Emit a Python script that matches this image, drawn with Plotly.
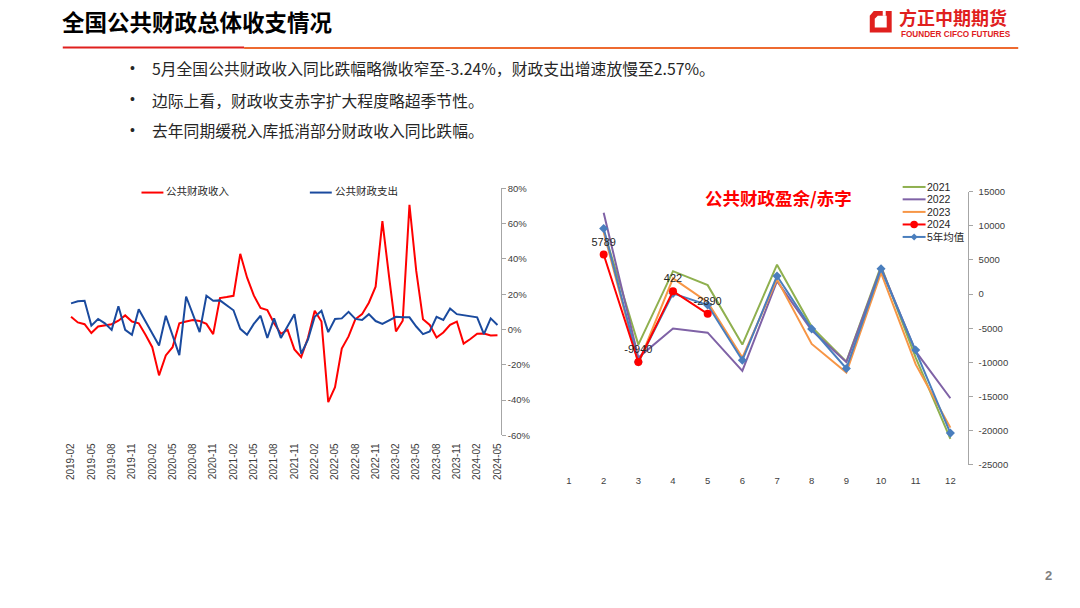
import plotly.graph_objects as go
import pandas as pd

# ---------------- data ----------------
months = [p.strftime("%Y-%m") for p in pd.period_range("2019-02", "2024-05", freq="M")]

revenue_yoy = [7.2, 4, 3, -2, 1.7, 2.2, 3, 5, 8, 4.5,
               3.5, -3, -10, -26, -14.7, -10, 3.5, 4.5, 5.4, 4.8,
               3.2, -2.6, 17.8, 18.4, 19.1, 42.9, 29.5, 19.3, 12.2, 11,
               3.5, -2.4, -0.2, -11.3, -15.6, -4.8, 10.6, 4.5, -41.2, -32.7,
               -10.8, -3.9, 5.8, 8.7, 15.2, 24.3, 61.4, 29.5, -1.1, 5,
               70.7, 33.2, 5.8, 2.6, -4.5, -1.7, 2.6, 4.5, -8, -5.4,
               -2.4, -2.3, -3.4, -3.24]

expend_yoy = [14.8, 16, 16.3, 2.2, 6, 3.5, -0.2, 13.2, -0.2, -3,
              11.5, 4.5, -2.6, -9.1, 7.8, -3.3, -14.5, 18.7, 9.1, -1.5,
              19.1, 16.3, 16.5, 13.7, 10.9, 0.4, -3, 3.2, 7.8, -4.8,
              6.3, -4.8, 2.2, 8.7, -13.7, -5.8, 7.2, 10.6, -1.5, 6,
              6.3, 10, 6, 5.4, 8.7, 4.8, 3.2, 5, 7.2, 6.9,
              6.9, 1.7, -2.6, -1.1, 7.2, 5.4, 11.9, 8.7, 8.2, 7.6,
              6.9, -2.6, 6.3, 2.57]

left_series_names = ["公共财政收入", "公共财政支出"]
left_yticks = [-60, -40, -20, 0, 20, 40, 60, 80]

month_nums = list(range(1, 13))
bal_2021 = [None, 9300, -7400, 3350, 1300, -7400, 4300, -4800, -9900, 4100, -9300, -21200]
bal_2022 = [None, 11900, -9300, -5050, -5650, -11250, 1900, -5300, -9950, 3850, -8400, -15250]
bal_2023 = [None, 9100, -10200, 2300, -1200, -9300, 2150, -7300, -11500, 3100, -10300, -19550]
bal_2024 = [None, 5789, -9940, 422, -2890]
bal_avg5 = [None, 9600, -9950, 100, -1600, -9700, 2650, -5100, -10900, 3700, -8200, -20350]
right_series_names = ["2021", "2022", "2023", "2024", "5年均值"]
right_yticks = [-25000, -20000, -15000, -10000, -5000, 0, 5000, 10000, 15000]

# ---------------- helpers (layout only) ----------------
W, H = 1080, 608
def px(x):
    return x / W
def py(y):
    return 1 - y / H

CJK = "Noto Sans CJK SC"
LAT = "Liberation Sans"
MIX = "Liberation Sans, Noto Sans CJK SC"
AXIS_GRAY = "#A6A6A6"
TXT = "#404040"

RED = "#FF0000"
BLUE_L = "#1A4A9E"
C2021 = "#8FB04F"
C2022 = "#7F62A6"
C2023 = "#F79646"
C2024 = "#FF0000"
CAVG = "#4A7EBD"

fig = go.Figure()

# ---------------- left chart ----------------
idx = list(range(len(months)))
fig.add_trace(go.Scatter(x=idx, y=revenue_yoy, mode="lines", name=left_series_names[0],
                         line=dict(color=RED, width=2), xaxis="x", yaxis="y", showlegend=False))
fig.add_trace(go.Scatter(x=idx, y=expend_yoy, mode="lines", name=left_series_names[1],
                         line=dict(color=BLUE_L, width=2), xaxis="x", yaxis="y", showlegend=False))

# ---------------- right chart ----------------
fig.add_trace(go.Scatter(x=month_nums, y=bal_2021, mode="lines", name="2021",
                         line=dict(color=C2021, width=2), xaxis="x2", yaxis="y2", showlegend=False))
fig.add_trace(go.Scatter(x=month_nums, y=bal_2022, mode="lines", name="2022",
                         line=dict(color=C2022, width=2), xaxis="x2", yaxis="y2", showlegend=False))
fig.add_trace(go.Scatter(x=month_nums, y=bal_2023, mode="lines", name="2023",
                         line=dict(color=C2023, width=2), xaxis="x2", yaxis="y2", showlegend=False))
fig.add_trace(go.Scatter(x=month_nums, y=bal_avg5, mode="lines+markers", name="5年均值",
                         line=dict(color=CAVG, width=2),
                         marker=dict(symbol="diamond", size=7, color=CAVG),
                         xaxis="x2", yaxis="y2", showlegend=False))
fig.add_trace(go.Scatter(x=month_nums[:len(bal_2024)], y=bal_2024, mode="lines+markers+text", name="2024",
                         line=dict(color=C2024, width=2),
                         marker=dict(symbol="circle", size=8, color=C2024),
                         text=["" if v is None else str(v) for v in bal_2024],
                         textposition="top center",
                         textfont=dict(family=LAT, size=11, color="#262626"),
                         xaxis="x2", yaxis="y2", showlegend=False))

# ---------------- axes geometry ----------------
lx0, lx1 = px(65.9), px(500.7)
ly0, ly1 = py(437.3), py(185.7)
rx0, rx1 = px(551.7), px(969.3)
ry0, ry1 = py(467.3), py(189.0)

l_zero = ly0 + (0 - left_yticks[0]) / (left_yticks[-1] - left_yticks[0]) * (ly1 - ly0)
r_zero = ry0 + (0 - right_yticks[0]) / (right_yticks[-1] - right_yticks[0]) * (ry1 - ry0)

tick_idx = idx[::3]
fig.update_layout(
    xaxis=dict(domain=[lx0, lx1], range=[-0.5, len(months) - 0.5], anchor="y",
               tickvals=tick_idx, ticktext=[months[i] for i in tick_idx], tickangle=-90,
               showgrid=False, zeroline=False, showline=False, ticks="",
               tickfont=dict(family=LAT, size=10, color=TXT), ticklabelstandoff=5),
    yaxis=dict(domain=[ly0, ly1], range=[left_yticks[0], left_yticks[-1]], anchor="x", side="right",
               tickvals=left_yticks, ticktext=[f"{v}%" for v in left_yticks],
               showgrid=False, zeroline=False, showline=True, linecolor=AXIS_GRAY, linewidth=1,
               ticks="outside", ticklen=4, tickcolor=AXIS_GRAY,
               tickfont=dict(family=LAT, size=9.5, color=TXT)),
    xaxis3=dict(overlaying="x", anchor="free", position=l_zero,
                range=[-0.5, len(months) - 0.5],
                tickvals=[i - 0.5 for i in tick_idx], showticklabels=False,
                showgrid=False, zeroline=False, showline=True, linecolor=AXIS_GRAY, linewidth=1,
                ticks="outside", ticklen=3, tickcolor=AXIS_GRAY),
    xaxis2=dict(domain=[rx0, rx1], range=[0.5, 12.5], anchor="y2",
                tickvals=month_nums, ticktext=[str(m) for m in month_nums],
                showgrid=False, zeroline=False, showline=False, ticks="",
                tickfont=dict(family=LAT, size=9.5, color=TXT), ticklabelstandoff=9),
    yaxis2=dict(domain=[ry0, ry1], range=[right_yticks[0], right_yticks[-1]], anchor="x2", side="right",
                tickvals=right_yticks, ticktext=[str(v) for v in right_yticks],
                showgrid=False, zeroline=False, showline=True, linecolor=AXIS_GRAY, linewidth=1,
                ticks="outside", ticklen=4, tickcolor=AXIS_GRAY, ticklabelstandoff=4,
                tickfont=dict(family=LAT, size=9.5, color=TXT)),
    xaxis4=dict(overlaying="x2", anchor="free", position=r_zero, range=[0.5, 12.5],
                tickvals=[m - 0.5 for m in month_nums] + [12.5], showticklabels=False,
                showgrid=False, zeroline=False, showline=True, linecolor=AXIS_GRAY, linewidth=1,
                ticks="outside", ticklen=3, tickcolor=AXIS_GRAY),
)

# ---------------- header & decorations ----------------
shapes = []
annotations = []

# title underline
shapes.append(dict(type="line", xref="paper", yref="paper", x0=px(61), x1=px(243), y0=py(42.3), y1=py(42.3),
                   line=dict(color="#E0201E", width=2)))
shapes.append(dict(type="line", xref="paper", yref="paper", x0=px(243), x1=px(1020), y0=py(42.8), y1=py(42.8),
                   line=dict(color="#EE6A30", width=2)))

# logo icon
def pth(pts):
    return "M " + " L ".join(f"{px(x)},{py(y)}" for x, y in pts) + " Z"
shapes.append(dict(type="path", xref="paper", yref="paper",
                   path=pth([(875, 5), (893, 5), (893, 27), (871, 27), (871, 10)]),
                   fillcolor="#E0201E", line=dict(width=0)))
shapes.append(dict(type="path", xref="paper", yref="paper",
                   path=pth([(879, 10), (888, 10), (888, 22), (876, 22), (876, 13)]),
                   fillcolor="white", line=dict(width=0)))
shapes.append(dict(type="path", xref="paper", yref="paper",
                   path=pth([(884, 5), (887, 5), (887, 10), (884, 10)]),
                   fillcolor="white", line=dict(width=0)))

annotations.append(dict(text="<b>全国公共财政总体收支情况</b>", x=px(58), y=py(15), xref="paper", yref="paper",
                        xanchor="left", yanchor="middle", showarrow=False,
                        font=dict(family=CJK, size=22.5, color="#000000")))
annotations.append(dict(text="<b>方正中期期货</b>", x=px(898), y=py(11), xref="paper", yref="paper",
                        xanchor="left", yanchor="middle", showarrow=False,
                        font=dict(family=CJK, size=18, color="#E0201E")))
annotations.append(dict(text="<b>FOUNDER CIFCO FUTURES</b>", x=px(900), y=py(29.5), xref="paper", yref="paper",
                        xanchor="left", yanchor="middle", showarrow=False,
                        font=dict(family=LAT, size=8.2, color="#E0201E")))

bullets = ["5月全国公共财政收入同比跌幅略微收窄至-3.24%，财政支出增速放慢至2.57%。",
           "边际上看，财政收支赤字扩大程度略超季节性。",
           "去年同期缓税入库抵消部分财政收入同比跌幅。"]
for text, yy in zip(bullets, [68, 100, 131]):
    annotations.append(dict(text="•", x=px(131), y=py(yy - 5), xref="paper", yref="paper",
                            xanchor="center", yanchor="middle", showarrow=False,
                            font=dict(family=LAT, size=14, color="#262626")))
    annotations.append(dict(text=text, x=px(149), y=py(yy - 4), xref="paper", yref="paper",
                            xanchor="left", yanchor="middle", showarrow=False,
                            font=dict(family=CJK, size=15.8, color="#262626")))

# left legend
for name, color, lx in [(left_series_names[0], RED, 140), (left_series_names[1], BLUE_L, 309)]:
    shapes.append(dict(type="line", xref="paper", yref="paper", x0=px(lx), x1=px(lx + 22),
                       y0=py(190), y1=py(190), line=dict(color=color, width=2)))
    annotations.append(dict(text=name, x=px(lx + 23), y=py(187.5), xref="paper", yref="paper",
                            xanchor="left", yanchor="middle", showarrow=False,
                            font=dict(family=CJK, size=10.5, color="#262626")))

# right title
annotations.append(dict(text="<b>公共财政盈余/赤字</b>", x=px(779), y=py(195), xref="paper", yref="paper",
                        xanchor="center", yanchor="middle", showarrow=False,
                        font=dict(family=CJK, size=17.5, color="#FF0000")))

# right legend
leg_colors = [C2021, C2022, C2023, C2024, CAVG]
leg_y = [184.3, 196.9, 209.7, 222.5, 235.2]
for name, color, yy in zip(right_series_names, leg_colors, leg_y):
    shapes.append(dict(type="line", xref="paper", yref="paper", x0=px(904), x1=px(927),
                       y0=py(yy), y1=py(yy), line=dict(color=color, width=2)))
    annotations.append(dict(text=name, x=px(927), y=py(yy), xref="paper", yref="paper",
                            xanchor="left", yanchor="middle", showarrow=False, borderpad=0,
                            font=dict(family=MIX, size=10.5, color="#262626")))
# legend markers
cx = 915.5
shapes.append(dict(type="circle", xref="paper", yref="paper", x0=px(cx - 3.8), x1=px(cx + 3.8),
                   y0=py(leg_y[3] + 3.8), y1=py(leg_y[3] - 3.8), fillcolor=C2024, line=dict(width=0)))
shapes.append(dict(type="path", xref="paper", yref="paper",
                   path=pth([(cx, leg_y[4] - 3.5), (cx + 3.5, leg_y[4]), (cx, leg_y[4] + 3.5), (cx - 3.5, leg_y[4])]),
                   fillcolor=CAVG, line=dict(width=0)))

# page number
annotations.append(dict(text="<b>2</b>", x=px(1050), y=py(580), xref="paper", yref="paper",
                        xanchor="center", yanchor="middle", showarrow=False,
                        font=dict(family=LAT, size=13, color="#7F7F7F")))

fig.update_layout(
    width=W, height=H, autosize=False,
    margin=dict(l=0, r=0, t=0, b=0, pad=0),
    paper_bgcolor="white", plot_bgcolor="white",
    shapes=shapes, annotations=annotations,
    showlegend=False,
)

fig.write_html("out.html", config={"displayModeBar": False},
               post_script="document.body.style.margin='0';document.body.style.overflow='hidden';")
